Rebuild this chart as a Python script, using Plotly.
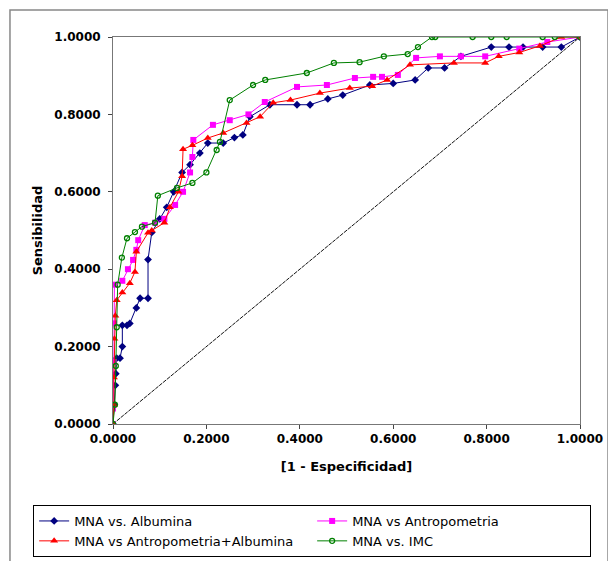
import plotly.graph_objects as go

# ---- data ----
alb_x = [0, 0.003, 0.005, 0.006, 0.008, 0.015, 0.02, 0.02, 0.03, 0.036, 0.05, 0.058, 0.075, 0.075, 0.083,
         0.1, 0.115, 0.13, 0.148, 0.165, 0.186, 0.203, 0.236, 0.26, 0.278, 0.293, 0.336, 0.394, 0.422,
         0.46, 0.492, 0.55, 0.6, 0.647, 0.675, 0.71, 0.745, 0.81, 0.848, 0.878, 0.92, 0.96, 1.0]
alb_y = [0, 0.05, 0.10, 0.13, 0.17, 0.17, 0.20, 0.255, 0.255, 0.26, 0.30, 0.325, 0.325, 0.425, 0.495,
         0.53, 0.56, 0.60, 0.65, 0.67, 0.70, 0.726, 0.726, 0.74, 0.747, 0.794, 0.825, 0.825, 0.825,
         0.84, 0.85, 0.876, 0.88, 0.889, 0.92, 0.92, 0.95, 0.974, 0.974, 0.974, 0.974, 0.974, 1.0]

ant_x = [0, 0.0, 0.002, 0.002, 0.003, 0.02, 0.032, 0.043, 0.05, 0.054, 0.068, 0.09, 0.11, 0.133, 0.15,
         0.165, 0.17, 0.172, 0.214, 0.25, 0.29, 0.325, 0.394, 0.458, 0.518, 0.557, 0.576, 0.61, 0.649,
         0.70, 0.745, 0.797, 0.87, 0.93, 1.0]
ant_y = [0, 0.04, 0.16, 0.26, 0.36, 0.37, 0.40, 0.424, 0.45, 0.475, 0.514, 0.52, 0.53, 0.566, 0.60,
         0.65, 0.69, 0.734, 0.773, 0.785, 0.80, 0.832, 0.871, 0.876, 0.894, 0.897, 0.897, 0.902, 0.946,
         0.95, 0.95, 0.95, 0.97, 0.987, 1.0]

aa_x = [0, 0.002, 0.002, 0.003, 0.005, 0.008, 0.02, 0.036, 0.047, 0.05, 0.075, 0.083, 0.11, 0.122, 0.14,
        0.148, 0.15, 0.17, 0.203, 0.236, 0.286, 0.315, 0.343, 0.38, 0.443, 0.507, 0.555, 0.587, 0.636,
        0.73, 0.797, 0.826, 0.87, 0.914, 0.96, 1.0]
aa_y = [0, 0.05, 0.12, 0.22, 0.28, 0.32, 0.34, 0.364, 0.393, 0.445, 0.494, 0.50, 0.52, 0.56, 0.60,
        0.64, 0.71, 0.72, 0.739, 0.752, 0.778, 0.794, 0.83, 0.837, 0.855, 0.868, 0.873, 0.889, 0.928,
        0.933, 0.933, 0.95, 0.96, 0.977, 1.0, 1.0]

imc_x = [0, 0.004, 0.006, 0.008, 0.01, 0.019, 0.03, 0.047, 0.062, 0.09, 0.096, 0.137, 0.17, 0.2, 0.222,
         0.229, 0.25, 0.30, 0.326, 0.415, 0.473, 0.528, 0.58, 0.631, 0.653, 0.683, 0.69, 0.77, 0.81,
         0.843, 0.92, 0.946, 1.0]
imc_y = [0, 0.05, 0.15, 0.25, 0.36, 0.43, 0.48, 0.496, 0.51, 0.52, 0.59, 0.61, 0.623, 0.65, 0.708,
         0.729, 0.837, 0.876, 0.889, 0.907, 0.933, 0.935, 0.95, 0.956, 0.974, 1.0, 1.0, 1.0, 1.0,
         1.0, 1.0, 1.0, 1.0]

ref_x = [0, 1]
ref_y = [0, 1]

names = ["MNA vs. Albumina", "MNA vs Antropometria",
         "MNA vs Antropometria+Albumina", "MNA vs. IMC"]
tick_vals = [0, 0.2, 0.4, 0.6, 0.8, 1.0]

FONT = "DejaVu Sans, sans-serif"

fig = go.Figure()
fig.add_trace(go.Scatter(x=ref_x, y=ref_y, mode="lines", showlegend=False,
                         line=dict(color="#111111", width=1, dash="4px,1px")))
series = [
    (alb_x, alb_y, names[0], "#000080", "diamond", 6, None),
    (ant_x, ant_y, names[1], "#FF00FF", "square", 6, None),
    (aa_x, aa_y, names[2], "#FF0000", "triangle-up", 7, None),
    (imc_x, imc_y, names[3], "#008000", "circle-open", 5, 1.3),
]
for xs, ys, nm, col, sym, sz, lw in series:
    mk = dict(color=col, symbol=sym, size=sz)
    if lw:
        mk["line"] = dict(color=col, width=lw)
    fig.add_trace(go.Scatter(x=xs, y=ys, mode="lines+markers", name=nm,
                             line=dict(color=col, width=1), marker=mk))

axis_common = dict(range=[0, 1], tickvals=tick_vals, tickformat=".4f",
                   showgrid=False, zeroline=False, ticks="outside", ticklen=4,
                   tickcolor="#444444", linecolor="#777777", linewidth=1,
                   mirror=True, showline=True, automargin=False,
                   tickfont=dict(family=FONT, size=12, color="black", weight="bold"))

fig.update_layout(
    width=608, height=561, autosize=False,
    margin=dict(l=113, r=28, t=37, b=137, autoexpand=False),
    paper_bgcolor="white", plot_bgcolor="white",
    font=dict(family=FONT, size=12, color="black"),
    xaxis=dict(**axis_common,
               title=dict(text="<b>[1 - Especificidad]</b>", standoff=16,
                          font=dict(family=FONT, size=13))),
    yaxis=dict(**axis_common, ticklabelstandoff=5,
               title=dict(text="<b>Sensibilidad</b>", standoff=8,
                          font=dict(family=FONT, size=13))),
    legend=dict(orientation="h", x=-0.171, xanchor="left", y=-0.2093, yanchor="top",
                bordercolor="black", borderwidth=1, bgcolor="white",
                entrywidth=233, entrywidthmode="pixels",
                font=dict(family=FONT, size=13), tracegroupgap=0),
    shapes=[dict(type="rect", xref="paper", yref="paper",
                 x0=-0.2206, x1=1.06, y0=-0.40, y1=1.0698,
                 line=dict(color="#888888", width=1.5), layer="below")],
)

fig.write_html("out.html", config={"responsive": False, "displayModeBar": False},
               post_script="document.body.style.margin='0';document.body.style.overflow='hidden';")
